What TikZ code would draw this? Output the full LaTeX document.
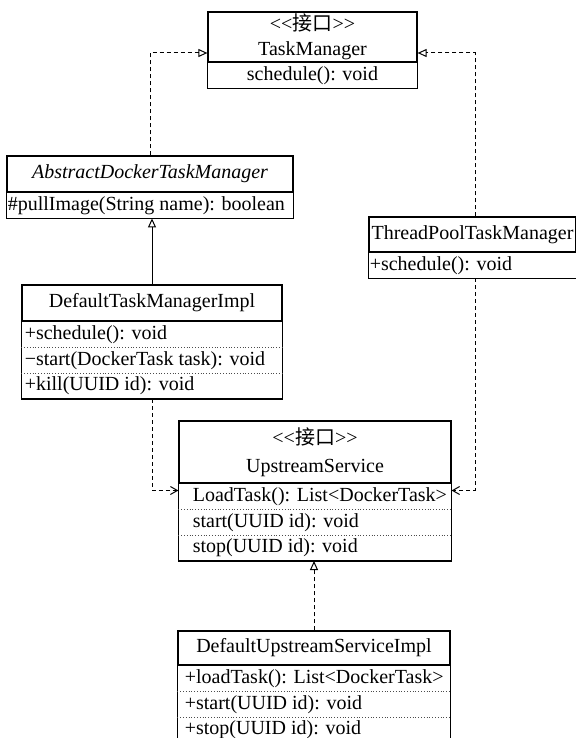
\documentclass[tikz,border=0pt]{standalone}
\usepackage{fontspec}
\setmainfont{Liberation Serif}[Ligatures=TeXOff]
\newfontfamily\cjk{Noto Sans CJK SC}
\usetikzlibrary{arrows.meta, positioning}
\tikzset{
  head/.style={rectangle, draw, line width=0.6pt, minimum width=#1,
               inner sep=0.5pt, align=center},
  row/.style={rectangle, inner sep=0pt, minimum height=12.5pt},
  frame/.style={draw, line width=0.6pt},
  sep/.style={densely dotted, line width=0.4pt, draw=black!70},
  dline/.style={line width=0.5pt, dash pattern=on 2pt off 1.5pt},
  realize/.style={dline, -{Triangle[open, length=4.5pt, width=4pt]}},
  inherit/.style={line width=0.5pt, -{Triangle[open, length=4.5pt, width=4pt]}},
  depend/.style={dline, -{Straight Barb[length=3.5pt, width=4pt]}},
}
\begin{document}
\begin{tikzpicture}[x=0.5pt, y=-0.5pt,
  every node/.style={font=\fontsize{10}{12.5}\selectfont}]
  \useasboundingbox (0,0) rectangle (576,738);

  \node[head=104.5pt, minimum height=25pt] (tm) at (312.5,37) {<<{\cjk 接口}>>\\TaskManager};
  \node[row, below=0pt of tm] (tm1) {schedule(): void};
  \draw[frame] (tm.south west) rectangle (tm.east |- tm1.south);

  \node[head=143pt, minimum height=18pt, font=\fontsize{10}{12.5}\selectfont\itshape] (adtm) at (150,174) {AbstractDockerTaskManager};
  \node[row, below right=0pt and 0.5pt of adtm.south west] (adtm1) {\#pullImage(String name): boolean};
  \draw[frame] (adtm.south west) rectangle (adtm.east |- adtm1.south);

  \node[head=130pt, minimum height=18pt] (dtmi) at (152,303) {DefaultTaskManagerImpl};
  \node[row, below right=0pt and 1.5pt of dtmi.south west] (dtmi1) {+schedule(): void};
  \node[row, below right=0pt and 0pt of dtmi1.south west] (dtmi2) {−start(DockerTask task): void};
  \node[row, below right=0pt and 0pt of dtmi2.south west] (dtmi3) {+kill(UUID id): void};
  \draw[frame] (dtmi.south west) rectangle (dtmi.east |- dtmi3.south);
  \draw[sep] (dtmi.west |- dtmi1.south) -- (dtmi.east |- dtmi1.south);
  \draw[sep] (dtmi.west |- dtmi2.south) -- (dtmi.east |- dtmi2.south);

  \node[head=103.5pt, minimum height=17.5pt] (tp) at (472.5,234.5) {ThreadPoolTaskManager};
  \node[row, below right=0pt and 0.5pt of tp.south west] (tp1) {+schedule(): void};
  \draw[frame] (tp.south west) rectangle (tp.east |- tp1.south);

  \node[head=136pt, minimum height=31pt] (us) at (315,452) {<<{\cjk 接口}>>\\[1.5pt]UpstreamService};
  \node[row, below right=0pt and 7pt of us.south west] (us1) {LoadTask(): List<DockerTask>};
  \node[row, below right=0pt and 0pt of us1.south west] (us2) {start(UUID id): void};
  \node[row, below right=0pt and 0pt of us2.south west] (us3) {stop(UUID id): void};
  \draw[frame] (us.south west) rectangle (us.east |- us3.south);
  \draw[sep] (us.west |- us1.south) -- (us.east |- us1.south);
  \draw[sep] (us.west |- us2.south) -- (us.east |- us2.south);

  \node[head=136pt, minimum height=17pt] (dusi) at (314,648) {DefaultUpstreamServiceImpl};
  \node[row, below right=0pt and 3.5pt of dusi.south west] (dusi1) {+loadTask(): List<DockerTask>};
  \node[row, below right=0pt and 0pt of dusi1.south west] (dusi2) {+start(UUID id): void};
  \node[row, below right=0pt and 0pt of dusi2.south west] (dusi3) {+stop(UUID id): void};
  \draw[frame] (dusi.south west) rectangle (dusi.east |- dusi3.south);
  \draw[sep] (dusi.west |- dusi1.south) -- (dusi.east |- dusi1.south);
  \draw[sep] (dusi.west |- dusi2.south) -- (dusi.east |- dusi2.south);

  \path (us.west |- us1.west) ++(0,-6) coordinate (usl);
  \path (us.east |- us1.east) ++(0,-6) coordinate (usr);
  \path (tp.north) ++(2.5,0) coordinate (tpup);
  \path (tp.south |- tp1.south) ++(2.5,0) coordinate (tpdown);

  \draw[realize] (adtm.north) |- ([yshift=-8pt]tm.west);
  \draw[realize] (tpup) |- ([yshift=-8pt]tm.east);
  \draw[inherit] (dtmi.north) -- (dtmi.north |- adtm1.south);
  \draw[depend] (dtmi.south |- dtmi3.south) |- (usl);
  \draw[depend] (tpdown) |- (usr);
  \draw[realize] (dusi.north) -- (dusi.north |- us3.south);
\end{tikzpicture}
\end{document}
